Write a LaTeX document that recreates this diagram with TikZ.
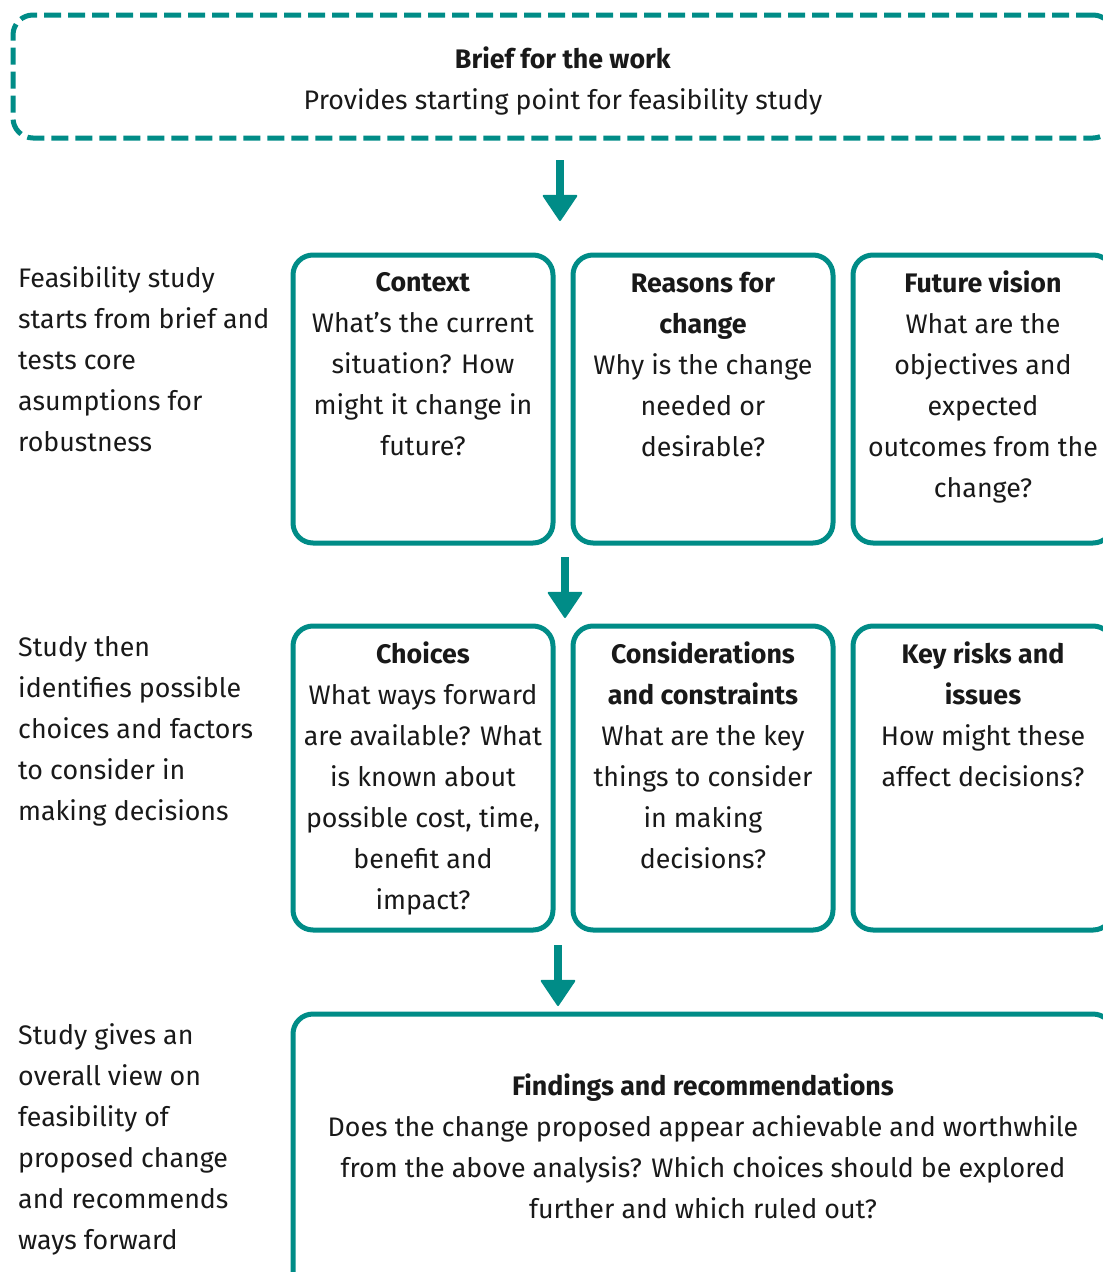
\documentclass[tikz,border=0pt]{standalone}
\usepackage{fontspec}
\setmainfont{Fira Sans}
\usetikzlibrary{positioning,arrows.meta}
\definecolor{tealline}{RGB}{0,140,135}

\begin{document}
\begin{tikzpicture}[
    x=1pt, y=-1pt,
    >={Triangle[width=36pt,length=27pt,line width=2pt,round]},
    every node/.style={font=\fontsize{26.8}{41}\selectfont, inner sep=0pt, text=black!90},
    box/.style={draw=tealline, line width=5pt, rounded corners=20pt},
    flow/.style={->, draw=tealline, fill=tealline, line width=8pt},
    side/.style={align=left, anchor=north west},
    inbox/.style={align=center}
]

\useasboundingbox (0,0) rectangle (1103,1272);

\node[box, dashed, dash pattern=on 17pt off 7pt, minimum width=1100pt, minimum height=123pt] (brief) at (563,76.5) {};
\node[inbox, below=34pt of brief.north] (briefTxt) {\textbf{Brief for the work}\\Provides starting point for feasibility study};

\coordinate (a1s) at (560,160);
\coordinate (a1e) at (560,221);
\draw[flow] (a1s) -- (a1e);

\node[side] (side1) at (18,266) {Feasibility study\\starts from brief and\\tests core\\asumptions for\\robustness};

\node[box, minimum width=260pt, minimum height=288pt] (context) at (423,399) {};
\node[box, minimum width=260pt, minimum height=288pt] (reasons) at (703,399) {};
\node[box, minimum width=260pt, minimum height=288pt] (vision) at (983,399) {};

\node[inbox, below=20pt of context.north] (contextTxt) {\textbf{Context}\\What’s the current\\situation? How\\might it change in\\future?};
\node[inbox, below=19pt of reasons.north] (reasonsTxt) {\textbf{Reasons for}\\\textbf{change}\\Why is the change\\needed or\\desirable?};
\node[inbox, below=18pt of vision.north] (visionTxt) {\textbf{Future vision}\\What are the\\objectives and\\expected\\outcomes from the\\change?};

\coordinate (a2s) at (565,557);
\coordinate (a2e) at (565,618);
\draw[flow] (a2s) -- (a2e);

\node[side] (side2) at (18,636) {Study then\\identifies possible\\choices and factors\\to consider in\\making decisions};

\node[box, minimum width=260pt, minimum height=304pt] (choices) at (423,778) {};
\node[box, minimum width=260pt, minimum height=304pt] (constraints) at (703,778) {};
\node[box, minimum width=260pt, minimum height=304pt] (risks) at (983,778) {};

\node[inbox, below=18pt of choices.north] (choicesTxt) {\textbf{Choices}\\What ways forward\\are available? What\\is known about\\possible cost, time,\\benefit and\\impact?};
\node[inbox, below=18pt of constraints.north] (constraintsTxt) {\textbf{Considerations}\\\textbf{and constraints}\\What are the key\\things to consider\\in making\\decisions?};
\node[inbox, below=18pt of risks.north] (risksTxt) {\textbf{Key risks and}\\\textbf{issues}\\How might these\\affect decisions?};

\coordinate (a3s) at (558,945);
\coordinate (a3e) at (558,1006);
\draw[flow] (a3s) -- (a3e);

\node[side] (side3) at (18,1023) {Study gives an\\overall view on\\feasibility of\\proposed change\\and recommends\\ways forward};

\node[box, minimum width=820pt, minimum height=276pt] (findings) at (703,1152) {};
\node[inbox, below=62pt of findings.north] (findingsTxt) {\textbf{Findings and recommendations}\\Does the change proposed appear achievable and worthwhile\\from the above analysis? Which choices should be explored\\further and which ruled out?};

\end{tikzpicture}
\end{document}
